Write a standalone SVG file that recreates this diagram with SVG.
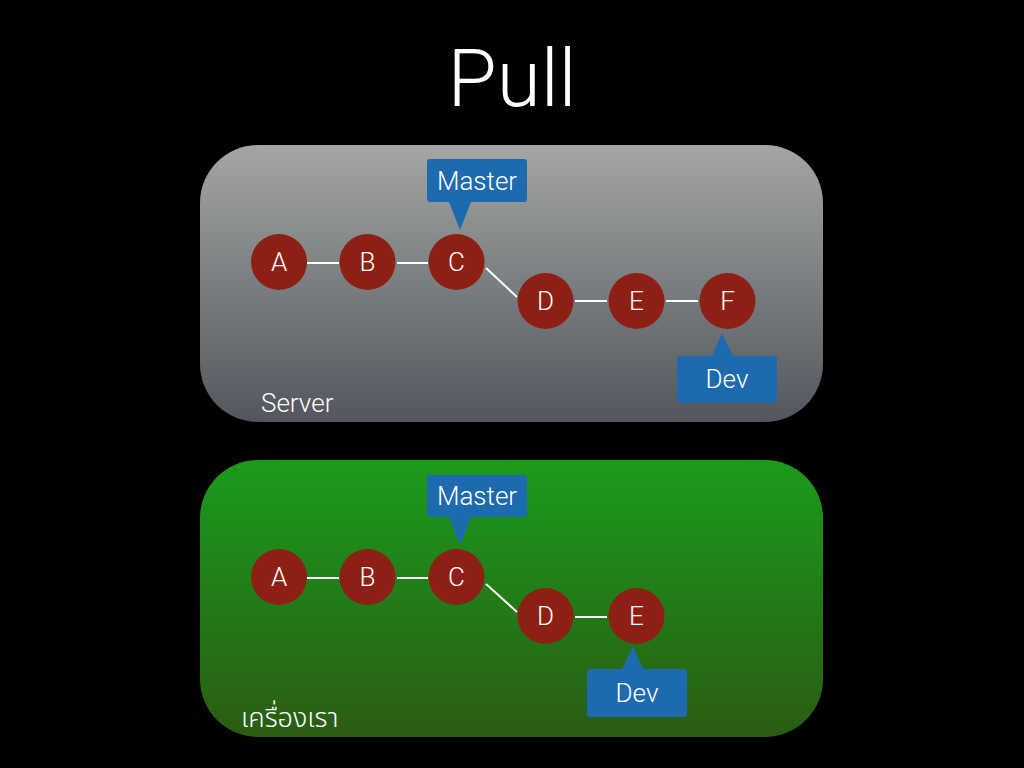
<svg xmlns="http://www.w3.org/2000/svg" width="1024" height="768" viewBox="0 0 1024 768">
<defs>
<linearGradient id="gServer" x1="0" y1="0" x2="0" y2="1">
<stop offset="0" stop-color="#a3a6a3"/>
<stop offset="1" stop-color="#53565d"/>
</linearGradient>
<linearGradient id="gLocal" x1="0" y1="0" x2="0" y2="1">
<stop offset="0" stop-color="#1b9b1b"/>
<stop offset="1" stop-color="#2a5c14"/>
</linearGradient>
<style>
.t{font-family:Roboto,"Liberation Sans","Noto Sans Thai","DejaVu Sans",sans-serif;font-weight:300;fill:#ffffff;}
.node circle{fill:#8e1f14;}
.node text{font-size:26px;text-anchor:middle;}
.tag path{fill:#1e6aae;}
.tag text{font-size:26px;text-anchor:middle;}
.edge{stroke:#ffffff;stroke-width:2;fill:none;}
</style>
</defs>
<rect width="1024" height="768" fill="#000000"/>
<text class="t" x="512" y="106" font-size="80" text-anchor="middle">Pull</text>

<g id="server">
<rect x="200" y="145" width="623" height="277" rx="58" fill="url(#gServer)"/>
<text class="t" x="261" y="412" font-size="26">Server</text>
</g>
<g id="local">
<rect x="200" y="460" width="623" height="277" rx="58" fill="url(#gLocal)"/>
<text class="t" x="241" y="727" font-size="27">เครื่องเรา</text>
</g>

<g id="connectors">
<line class="edge" x1="307" y1="263" x2="339" y2="263"/>
<line class="edge" x1="397" y1="263" x2="428" y2="263"/>
<line class="edge" x1="486" y1="268" x2="517" y2="297"/>
<line class="edge" x1="575" y1="301" x2="607" y2="301"/>
<line class="edge" x1="666" y1="301" x2="698" y2="301"/>
<line class="edge" x1="307" y1="578" x2="339" y2="578"/>
<line class="edge" x1="397" y1="578" x2="428" y2="578"/>
<line class="edge" x1="486" y1="584" x2="517" y2="612"/>
<line class="edge" x1="575" y1="617" x2="607" y2="617"/>
</g>

<g id="s-A" class="node"><circle cx="279" cy="262" r="28"/><text class="t" x="279" y="271">A</text></g>
<g id="s-B" class="node"><circle cx="367.5" cy="262" r="28"/><text class="t" x="367.5" y="271">B</text></g>
<g id="s-C" class="node"><circle cx="456.5" cy="262" r="28"/><text class="t" x="456.5" y="271">C</text></g>
<g id="s-D" class="node"><circle cx="545.5" cy="301" r="28"/><text class="t" x="545.5" y="310">D</text></g>
<g id="s-E" class="node"><circle cx="636.5" cy="301" r="28"/><text class="t" x="636.5" y="310">E</text></g>
<g id="s-F" class="node"><circle cx="727.5" cy="301" r="28"/><text class="t" x="727.5" y="310">F</text></g>

<g id="s-master" class="tag">
<path d="M430,159 H524 Q527,159 527,162 V199 Q527,202 524,202 H471 L460,230 L449,202 H430 Q427,202 427,199 V162 Q427,159 430,159 Z"/>
<text class="t" x="477" y="190">Master</text>
</g>
<g id="s-dev" class="tag">
<path d="M712,356 L722,333 L733,356 H774 Q777,356 777,359 V400 Q777,403 774,403 H680 Q677,403 677,400 V359 Q677,356 680,356 Z"/>
<text class="t" x="727" y="388">Dev</text>
</g>

<g id="l-A" class="node"><circle cx="279" cy="577" r="28"/><text class="t" x="279" y="586">A</text></g>
<g id="l-B" class="node"><circle cx="367.5" cy="577" r="28"/><text class="t" x="367.5" y="586">B</text></g>
<g id="l-C" class="node"><circle cx="456.5" cy="577" r="28"/><text class="t" x="456.5" y="586">C</text></g>
<g id="l-D" class="node"><circle cx="545.5" cy="616" r="28"/><text class="t" x="545.5" y="625">D</text></g>
<g id="l-E" class="node"><circle cx="636.5" cy="616" r="28"/><text class="t" x="636.5" y="625">E</text></g>

<g id="l-master" class="tag">
<path d="M430,475 H524 Q527,475 527,478 V514 Q527,517 524,517 H471 L460,545 L449,517 H430 Q427,517 427,514 V478 Q427,475 430,475 Z"/>
<text class="t" x="477" y="505">Master</text>
</g>
<g id="l-dev" class="tag">
<path d="M622,669 L633,646 L643,669 H684 Q687,669 687,672 V714 Q687,717 684,717 H590 Q587,717 587,714 V672 Q587,669 590,669 Z"/>
<text class="t" x="637" y="702">Dev</text>
</g>
</svg>
